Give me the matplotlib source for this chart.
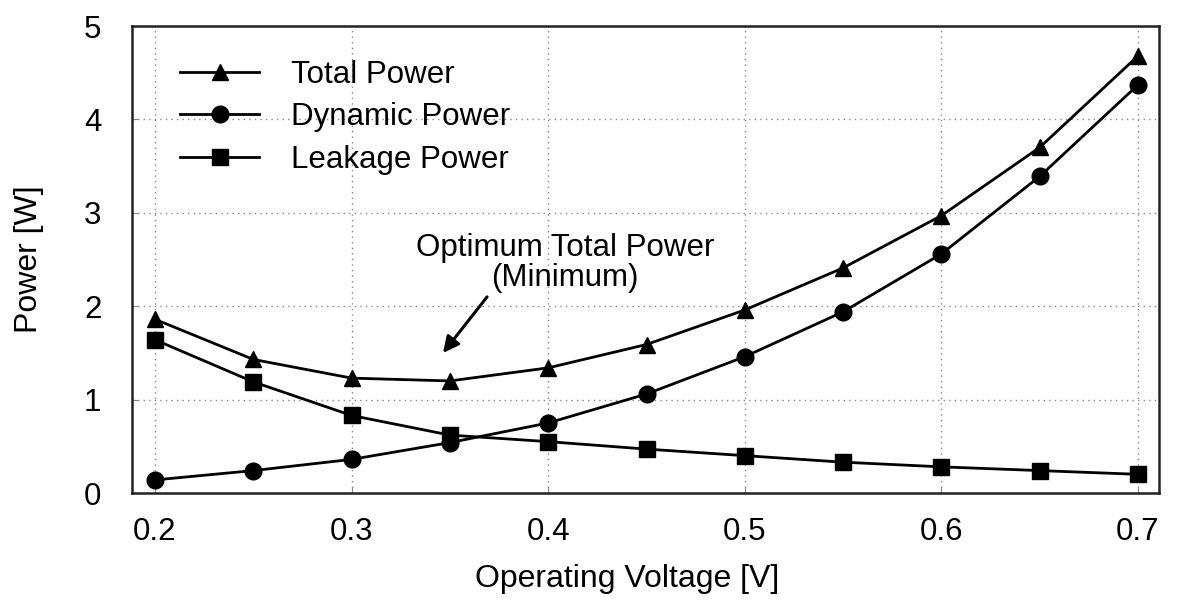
import matplotlib
matplotlib.use("Agg")
import matplotlib.pyplot as plt

plt.rcParams['font.family'] = ['Liberation Sans', 'DejaVu Sans']

voltage = [0.2, 0.25, 0.3, 0.35, 0.4, 0.45, 0.5, 0.55, 0.6, 0.65, 0.7]
total_power = [1.86, 1.43, 1.23, 1.20, 1.34, 1.59, 1.96, 2.41, 2.97, 3.70, 4.68]
dynamic_power = [0.14, 0.24, 0.36, 0.54, 0.75, 1.06, 1.46, 1.94, 2.56, 3.39, 4.37]
leakage_power = [1.64, 1.19, 0.83, 0.62, 0.55, 0.47, 0.40, 0.33, 0.28, 0.24, 0.20]
xticks = [0.2, 0.3, 0.4, 0.5, 0.6, 0.7]
yticks = [0, 1, 2, 3, 4, 5]

fig = plt.figure(figsize=(11.81, 6.01), dpi=100)
ax = fig.add_axes([0.1118, 0.1797, 0.8696, 0.7770])

kw = dict(color='black', linewidth=2.0)
ax.plot(voltage, total_power, marker='^', markersize=12, label='Total Power', **kw)
ax.plot(voltage, dynamic_power, marker='o', markersize=12, label='Dynamic Power', **kw)
ax.plot(voltage, leakage_power, marker='s', markersize=11, label='Leakage Power', **kw)

ax.set_xlim(0.1883, 0.7107)
ax.set_ylim(0, 5)
ax.set_xticks(xticks)
ax.set_xticklabels([f"{v:.1f}" for v in xticks])
ax.set_yticks(yticks)
ax.tick_params(labelsize=22.5, direction='in', length=4, color='#888888')
ax.tick_params(axis='x', pad=17)
ax.tick_params(axis='y', pad=22)
ax.grid(True, linestyle=(0, (1, 3)), color='#888888', linewidth=1.0)
for s in ax.spines.values():
    s.set_linewidth(1.8)
    s.set_color('#222222')

ax.set_xlabel('Operating Voltage [V]', fontsize=23)
ax.set_ylabel('Power [W]', fontsize=23)
ax.xaxis.set_label_coords(0.482, -0.152)
ax.yaxis.set_label_coords(-0.086, 0.5)

ax.text(0.4085, 2.46, 'Optimum Total Power\n(Minimum)', fontsize=22.5,
        ha='center', va='center', linespacing=1.0)
ax.annotate('', xy=(0.3465, 1.50), xytext=(0.3689, 2.10),
            arrowprops=dict(arrowstyle='-|>', color='black', lw=2.2,
                            shrinkA=0, shrinkB=0, mutation_scale=24))

leg = ax.legend(loc='upper left', fontsize=22.5, frameon=False, handlelength=2.5,
                handletextpad=1.05, labelspacing=0.4, borderaxespad=0,
                bbox_to_anchor=(0.035, 0.955))

fig.savefig('out.png', dpi=100)
